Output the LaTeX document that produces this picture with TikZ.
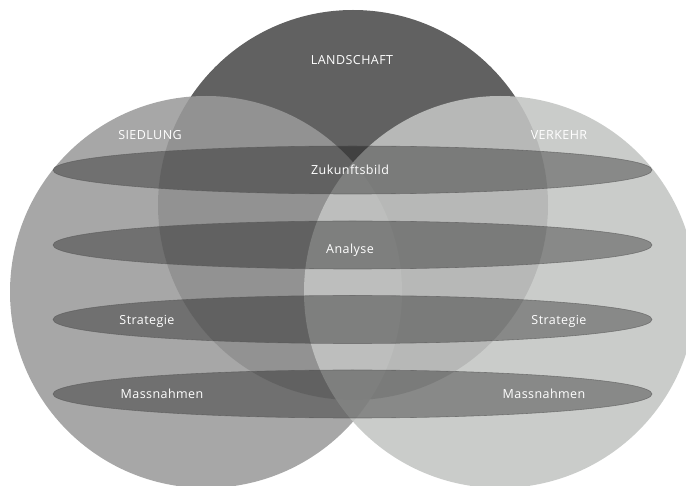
\documentclass[tikz,border=0pt]{standalone}
\usepackage{fontspec}
\newfontfamily\lab[LetterSpace=3.5]{Open Sans}
\definecolor{topc}{RGB}{97,97,97}
\definecolor{leftc}{RGB}{154,154,154}
\definecolor{rightc}{RGB}{195,197,195}
\definecolor{elline}{RGB}{85,85,85}
\tikzset{
  x=1pt,y=-1pt,
  circ/.style={circle,minimum size=392pt,inner sep=0pt,draw=none},
  band/.style={ellipse,minimum width=599pt,minimum height=48pt,inner sep=0pt,fill=black,fill opacity=0.33,draw=elline,draw opacity=0.6,line width=0.6pt},
  lbl/.style={text=white,font=\lab\fontsize{12.5}{13}\selectfont,inner sep=0pt,anchor=base}
}
\usetikzlibrary{shapes.geometric}
\begin{document}
\begin{tikzpicture}
\useasboundingbox (0,0) rectangle (686,486);
\begin{scope}
\clip (0,0) rectangle (686,486);
\node[circ,minimum size=390pt,fill=topc] (land) at (353,205) {};
\node[circ,fill=leftc,fill opacity=0.87] (sied) at (206,292) {};
\node[circ,fill=rightc,fill opacity=0.88] (verk) at (500,292) {};
\node[band] (zb) at (352.5,170) {};
\node[band] (an) at (352.5,245) {};
\node[band] (st) at (352.5,319.5) {};
\node[band] (ma) at (352.5,394) {};
\end{scope}
\node[lbl] (tland) at (352,64.5) {LANDSCHAFT};
\node[lbl] (tsied) at (150,139.5) {SIEDLUNG};
\node[lbl] (tverk) at (559,139.5) {VERKEHR};
\node[lbl] (tzb) at (350,174.5) {Zukunftsbild};
\node[lbl] (tan) at (350,253.5) {Analyse};
\node[lbl] (tst1) at (147,324.5) {Strategie};
\node[lbl] (tst2) at (559,324.5) {Strategie};
\node[lbl] (tma1) at (162,398.5) {Massnahmen};
\node[lbl] (tma2) at (544,398.5) {Massnahmen};
\end{tikzpicture}
\end{document}
